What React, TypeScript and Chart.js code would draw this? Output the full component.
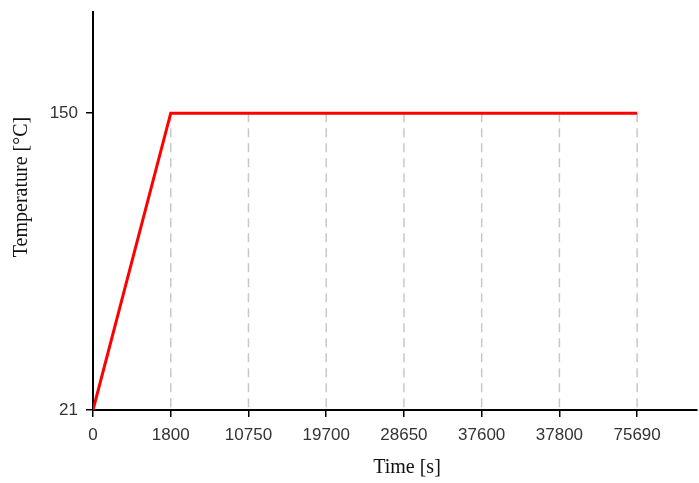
import React, { useEffect, useRef } from "react";
import { Chart, registerables } from "chart.js";

Chart.register(...registerables);

const timeLabels = ["0", "1800", "10750", "19700", "28650", "37600", "37800", "75690"];
const temperatures = [21, 150, 150, 150, 150, 150, 150, 150];
const yTicks = [21, 150];
const yTitle = "Temperature [°C]";
const xTitle = "Time [s]";

const dropLines = {
  id: "dropLines",
  beforeDatasetsDraw(chart: any) {
    const { ctx, scales } = chart;
    const x = scales.x;
    const y = scales.y;
    ctx.save();
    ctx.strokeStyle = "#c8c8c8";
    ctx.lineWidth = 1.5;
    ctx.setLineDash([9, 6]);
    for (let i = 1; i < temperatures.length; i++) {
      const px = x.getPixelForValue(i);
      ctx.beginPath();
      ctx.moveTo(px, y.getPixelForValue(temperatures[i]));
      ctx.lineTo(px, y.getPixelForValue(y.min));
      ctx.stroke();
    }
    ctx.restore();
  },
};

const axisTitles = {
  id: "axisTitles",
  afterDraw(chart: any) {
    const { ctx } = chart;
    ctx.save();
    ctx.fillStyle = "#111";
    ctx.font = "20px 'Liberation Serif'";
    ctx.textAlign = "center";
    ctx.textBaseline = "middle";
    ctx.fillText(xTitle, 407, 468);
    ctx.translate(22, 187);
    ctx.rotate(-Math.PI / 2);
    ctx.fillText(yTitle, 0, 0);
    ctx.restore();
  },
};

const whiteBg = {
  id: "whiteBg",
  beforeDraw(chart: any) {
    const { ctx } = chart;
    ctx.save();
    ctx.fillStyle = "#ffffff";
    ctx.fillRect(0, 0, chart.width, chart.height);
    ctx.restore();
  },
};

export default function App() {
  const ref = useRef<HTMLCanvasElement | null>(null);
  useEffect(() => {
    if (!ref.current) return;
    const chart = new Chart(ref.current, {
      type: "line",
      data: {
        datasets: [
          {
            data: temperatures.map((t, i) => ({ x: i, y: t })),
            borderColor: "#ff0000",
            borderWidth: 3,
            pointRadius: 0,
            tension: 0,
            fill: false,
          },
        ],
      },
      options: {
        animation: false,
        responsive: false,
        layout: { padding: { top: 12, right: 2, left: 8, bottom: 0 } },
        plugins: { legend: { display: false }, tooltip: { enabled: false } },
        scales: {
          x: {
            type: "linear",
            min: 0,
            max: 7.77,
            afterBuildTicks(scale: any) {
              scale.ticks = timeLabels.map((_, i) => ({ value: i }));
            },
            afterFit(scale: any) {
              scale.height = 73;
            },
            ticks: {
              callback: (v: any) => timeLabels[v] ?? "",
              color: "#333",
              font: { family: "Liberation Sans", size: 17 },
              padding: 8,
              maxRotation: 0,
              autoSkip: false,
            },
            grid: { drawOnChartArea: false, drawTicks: true, tickLength: 7, color: "#000", lineWidth: 1.5 },
            border: { display: true, color: "#000", width: 2 },
            title: { display: false },
          },
          y: {
            type: "linear",
            min: 21,
            max: 194,
            afterBuildTicks(scale: any) {
              scale.ticks = yTicks.map((v) => ({ value: v }));
            },
            afterFit(scale: any) {
              scale.width = 85;
              scale.paddingTop = 0;
              scale.paddingBottom = 0;
            },
            ticks: {
              color: "#333",
              font: { family: "Liberation Sans", size: 17 },
              padding: 8,
            },
            grid: { drawOnChartArea: false, drawTicks: true, tickLength: 7, color: "#000", lineWidth: 1.5 },
            border: { display: true, color: "#000", width: 2 },
            title: { display: false },
          },
        },
      },
      plugins: [whiteBg, dropLines, axisTitles],
    });
    return () => chart.destroy();
  }, []);
  return (
    <div style={{ position: "absolute", left: 0, top: 0 }}>
      <canvas ref={ref} width={699} height={483} style={{ display: "block", width: 699, height: 483 }} />
    </div>
  );
}
